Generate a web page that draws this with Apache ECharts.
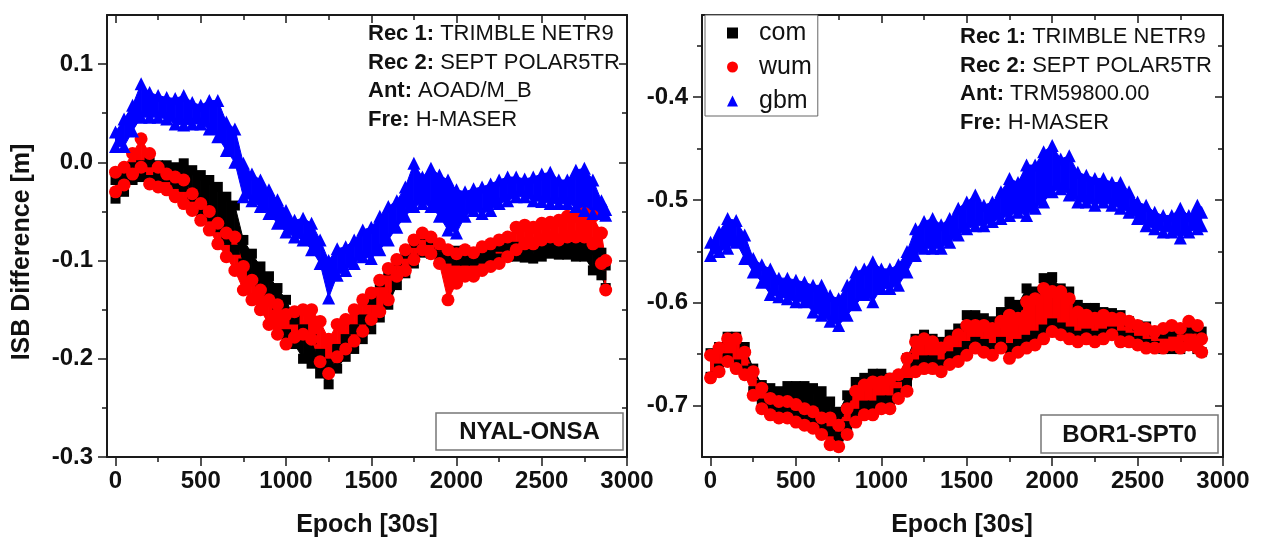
<!DOCTYPE html>
<html>
<head>
<meta charset="utf-8">
<script src="https://cdn.jsdelivr.net/npm/echarts@6/dist/echarts.min.js"></script>
<style>
  html, body { margin: 0; padding: 0; background: #fff; }
  #main { width: 1261px; height: 543px; }
</style>
</head>
<body>
<div id="main"></div>
<script>
const epochs = [0,50,100,150,200,250,300,350,400,450,500,550,600,650,700,750,800,850,900,950,
  1000,1050,1100,1150,1200,1250,1300,1350,1400,1450,1500,1550,1600,1650,1700,1750,1800,1850,1900,1950,
  2000,2050,2100,2150,2200,2250,2300,2350,2400,2450,2500,2550,2600,2650,2700,2750,2800,2850,2875]

// NYAL-ONSA : upper / lower edge of each point cloud [m]
const comHiL = [-0.018,-0.015,-0.005,-0.003,0.000,-0.003,-0.003,-0.005,-0.001,-0.008,
  -0.013,-0.018,-0.025,-0.035,-0.044,-0.079,-0.093,-0.106,-0.116,-0.128,
  -0.140,-0.160,-0.170,-0.180,-0.195,-0.205,-0.190,-0.180,-0.170,-0.160,
  -0.140,-0.122,-0.110,-0.100,-0.093,-0.082,-0.074,-0.079,-0.086,-0.092,
  -0.090,-0.090,-0.092,-0.089,-0.089,-0.086,-0.086,-0.086,-0.087,-0.086,
  -0.086,-0.086,-0.083,-0.086,-0.086,-0.083,-0.089,-0.092,-0.105]
const comLoL = [-0.037,-0.030,-0.018,-0.015,-0.018,-0.015,-0.015,-0.022,-0.025,-0.035,
  -0.049,-0.055,-0.066,-0.079,-0.089,-0.103,-0.113,-0.123,-0.133,-0.145,
  -0.175,-0.185,-0.200,-0.205,-0.215,-0.226,-0.210,-0.198,-0.190,-0.180,
  -0.170,-0.158,-0.145,-0.125,-0.113,-0.103,-0.092,-0.093,-0.096,-0.098,
  -0.100,-0.100,-0.100,-0.098,-0.098,-0.098,-0.096,-0.096,-0.097,-0.098,
  -0.096,-0.093,-0.094,-0.094,-0.096,-0.096,-0.110,-0.115,-0.128]
const wumHiL = [-0.010,-0.005,0.009,0.024,0.009,-0.005,-0.012,-0.015,-0.018,-0.032,
  -0.042,-0.050,-0.062,-0.072,-0.076,-0.106,-0.120,-0.130,-0.140,-0.145,
  -0.155,-0.152,-0.150,-0.150,-0.162,-0.180,-0.165,-0.160,-0.150,-0.140,
  -0.133,-0.120,-0.108,-0.099,-0.089,-0.079,-0.072,-0.076,-0.083,-0.089,
  -0.093,-0.089,-0.092,-0.086,-0.083,-0.079,-0.076,-0.066,-0.064,-0.066,
  -0.062,-0.061,-0.059,-0.055,-0.055,-0.052,-0.055,-0.072,-0.100]
const wumLoL = [-0.030,-0.023,-0.012,-0.005,-0.022,-0.025,-0.028,-0.035,-0.042,-0.049,
  -0.059,-0.069,-0.083,-0.096,-0.110,-0.130,-0.140,-0.150,-0.165,-0.175,
  -0.185,-0.178,-0.175,-0.180,-0.203,-0.215,-0.198,-0.190,-0.182,-0.172,
  -0.160,-0.152,-0.140,-0.116,-0.110,-0.099,-0.089,-0.093,-0.103,-0.140,
  -0.123,-0.116,-0.116,-0.110,-0.106,-0.103,-0.096,-0.089,-0.083,-0.083,
  -0.079,-0.076,-0.079,-0.076,-0.076,-0.076,-0.083,-0.103,-0.130]
const gbmHiL = [0.031,0.044,0.058,0.080,0.071,0.068,0.066,0.065,0.068,0.061,
  0.058,0.063,0.063,0.041,0.034,-0.001,-0.012,-0.018,-0.028,-0.038,
  -0.049,-0.059,-0.057,-0.062,-0.079,-0.100,-0.088,-0.086,-0.079,-0.069,
  -0.066,-0.055,-0.045,-0.039,-0.025,-0.001,-0.015,-0.006,-0.013,-0.018,
  -0.028,-0.030,-0.027,-0.025,-0.022,-0.018,-0.015,-0.015,-0.017,-0.015,
  -0.012,-0.010,-0.018,-0.018,-0.008,-0.006,-0.018,-0.039,-0.048]
const gbmLoL = [0.016,0.016,0.032,0.046,0.046,0.046,0.044,0.039,0.038,0.039,
  0.039,0.034,0.026,0.012,0.000,-0.035,-0.039,-0.045,-0.052,-0.062,
  -0.071,-0.076,-0.079,-0.089,-0.103,-0.138,-0.115,-0.110,-0.103,-0.096,
  -0.098,-0.089,-0.079,-0.066,-0.055,-0.045,-0.042,-0.045,-0.055,-0.069,
  -0.072,-0.055,-0.049,-0.052,-0.049,-0.042,-0.039,-0.035,-0.035,-0.039,
  -0.040,-0.042,-0.042,-0.042,-0.045,-0.049,-0.052,-0.052,-0.054]

// BOR1-SPT0
const comHiR = [-0.649,-0.643,-0.633,-0.633,-0.643,-0.664,-0.680,-0.683,-0.686,-0.681,
  -0.681,-0.681,-0.683,-0.686,-0.696,-0.706,-0.690,-0.677,-0.673,-0.669,
  -0.669,-0.673,-0.672,-0.654,-0.635,-0.631,-0.635,-0.638,-0.631,-0.625,
  -0.612,-0.612,-0.615,-0.618,-0.609,-0.599,-0.602,-0.586,-0.589,-0.576,
  -0.575,-0.586,-0.589,-0.602,-0.605,-0.605,-0.609,-0.610,-0.612,-0.618,
  -0.622,-0.623,-0.628,-0.630,-0.628,-0.626,-0.625,-0.625,-0.628]
const comLoR = [-0.672,-0.664,-0.654,-0.660,-0.666,-0.686,-0.698,-0.702,-0.705,-0.705,
  -0.708,-0.710,-0.714,-0.718,-0.725,-0.730,-0.720,-0.708,-0.700,-0.700,
  -0.695,-0.695,-0.688,-0.678,-0.660,-0.656,-0.656,-0.660,-0.652,-0.648,
  -0.642,-0.638,-0.640,-0.644,-0.638,-0.644,-0.640,-0.636,-0.632,-0.626,
  -0.620,-0.624,-0.628,-0.632,-0.630,-0.632,-0.630,-0.628,-0.632,-0.634,
  -0.637,-0.640,-0.642,-0.645,-0.645,-0.645,-0.642,-0.645,-0.648]
const wumHiR = [-0.651,-0.644,-0.635,-0.635,-0.648,-0.667,-0.683,-0.693,-0.696,-0.696,
  -0.699,-0.703,-0.706,-0.712,-0.712,-0.719,-0.703,-0.686,-0.680,-0.677,
  -0.677,-0.674,-0.670,-0.654,-0.638,-0.635,-0.638,-0.644,-0.638,-0.631,
  -0.622,-0.622,-0.622,-0.625,-0.618,-0.612,-0.615,-0.599,-0.596,-0.586,
  -0.589,-0.589,-0.596,-0.609,-0.612,-0.615,-0.612,-0.615,-0.615,-0.618,
  -0.622,-0.625,-0.628,-0.625,-0.622,-0.625,-0.618,-0.622,-0.635]
const wumLoR = [-0.673,-0.667,-0.657,-0.664,-0.670,-0.690,-0.703,-0.709,-0.712,-0.712,
  -0.716,-0.719,-0.722,-0.728,-0.738,-0.740,-0.728,-0.716,-0.709,-0.709,
  -0.703,-0.703,-0.693,-0.686,-0.667,-0.664,-0.664,-0.667,-0.660,-0.657,
  -0.651,-0.644,-0.648,-0.651,-0.644,-0.654,-0.648,-0.644,-0.641,-0.635,
  -0.628,-0.631,-0.635,-0.638,-0.635,-0.638,-0.635,-0.631,-0.638,-0.638,
  -0.641,-0.644,-0.644,-0.644,-0.641,-0.644,-0.641,-0.644,-0.648]
const gbmHiR = [-0.541,-0.531,-0.518,-0.520,-0.534,-0.557,-0.563,-0.567,-0.576,-0.576,
  -0.578,-0.580,-0.583,-0.583,-0.593,-0.596,-0.583,-0.570,-0.567,-0.560,
  -0.567,-0.567,-0.563,-0.550,-0.528,-0.521,-0.518,-0.524,-0.518,-0.508,
  -0.502,-0.495,-0.505,-0.502,-0.492,-0.479,-0.483,-0.466,-0.466,-0.453,
  -0.447,-0.460,-0.457,-0.473,-0.476,-0.479,-0.479,-0.483,-0.483,-0.492,
  -0.502,-0.505,-0.512,-0.515,-0.515,-0.508,-0.515,-0.505,-0.512]
const gbmLoR = [-0.554,-0.550,-0.547,-0.541,-0.557,-0.570,-0.580,-0.592,-0.594,-0.596,
  -0.599,-0.599,-0.609,-0.612,-0.618,-0.622,-0.612,-0.602,-0.592,-0.599,
  -0.586,-0.586,-0.583,-0.570,-0.554,-0.547,-0.547,-0.547,-0.541,-0.534,
  -0.528,-0.525,-0.525,-0.521,-0.518,-0.515,-0.512,-0.515,-0.508,-0.502,
  -0.492,-0.489,-0.495,-0.502,-0.502,-0.505,-0.502,-0.505,-0.508,-0.512,
  -0.518,-0.525,-0.528,-0.531,-0.531,-0.537,-0.531,-0.528,-0.525]

// tick positions
const xMajor = [0, 500, 1000, 1500, 2000, 2500, 3000]
const xMinor = [250, 750, 1250, 1750, 2250, 2750]
const yMajorL = [-0.3, -0.2, -0.1, 0.0, 0.1]
const yMinorL = [-0.25, -0.15, -0.05, 0.05]
const yMajorR = [-0.7, -0.6, -0.5, -0.4]
const yMinorR = [-0.65, -0.55, -0.45, -0.35]

const FONT = '"Liberation Sans", Arial, sans-serif'
const AX = '#1a1a1a'

// 4 x-axes and 4 y-axes per panel: bottom/left major, minor, top/right major, minor
function xAxes(gi) {
  const base = {type: 'value', gridIndex: gi, min: -50, max: 3000, splitLine: {show: false}}
  const tick = (vals, len, inside) => ({show: true, customValues: vals, length: len, inside: inside,
    lineStyle: {color: AX, width: 1.5}})
  return [
    Object.assign({}, base, {position: 'bottom',
      axisLine: {show: true, onZero: false, lineStyle: {color: AX, width: 2}},
      axisTick: tick(xMajor, 9, false),
      axisLabel: {customValues: xMajor, margin: 12, color: '#111', fontSize: 24, fontWeight: 'bold', fontFamily: FONT,
        formatter: v => String(v)}}),
    Object.assign({}, base, {position: 'bottom', axisLine: {show: false, onZero: false},
      axisTick: tick(xMinor, 5, false), axisLabel: {show: false}}),
    Object.assign({}, base, {position: 'top',
      axisLine: {show: true, onZero: false, lineStyle: {color: AX, width: 2}},
      axisTick: tick(xMajor, 8, true), axisLabel: {show: false}}),
    Object.assign({}, base, {position: 'top', axisLine: {show: false, onZero: false},
      axisTick: tick(xMinor, 5, true), axisLabel: {show: false}})
  ]
}

function yAxes(gi, min, max, major, minor) {
  const base = {type: 'value', gridIndex: gi, min: min, max: max, splitLine: {show: false}}
  const tick = (vals, len, inside) => ({show: true, customValues: vals, length: len, inside: inside,
    lineStyle: {color: AX, width: 1.5}})
  return [
    Object.assign({}, base, {position: 'left',
      axisLine: {show: true, onZero: false, lineStyle: {color: AX, width: 2}},
      axisTick: tick(major, 9, false),
      axisLabel: {customValues: major, margin: 14, color: '#111', fontSize: 24, fontWeight: 'bold', fontFamily: FONT,
        formatter: v => v.toFixed(1)}}),
    Object.assign({}, base, {position: 'left', axisLine: {show: false, onZero: false},
      axisTick: tick(minor, 5, false), axisLabel: {show: false}}),
    Object.assign({}, base, {position: 'right',
      axisLine: {show: true, onZero: false, lineStyle: {color: AX, width: 2}},
      axisTick: tick(major, 8, true), axisLabel: {show: false}}),
    Object.assign({}, base, {position: 'right', axisLine: {show: false, onZero: false},
      axisTick: tick(minor, 5, true), axisLabel: {show: false}})
  ]
}

// a point cloud = filled band between the read edges + markers along both edges
function cloud(name, color, hi, lo, symbol, size, gi) {
  const ax = {xAxisIndex: gi * 4, yAxisIndex: gi * 4}
  const rows = epochs.map((e, i) => [e, lo[i], hi[i]])
  const pts = epochs.map((e, i) => [e, hi[i]]).concat(epochs.map((e, i) => [e, lo[i]]))
  return [
    Object.assign({type: 'custom', name: name + ' band', coordinateSystem: 'cartesian2d', data: rows,
      encode: {x: 0, y: [1, 2]}, silent: true,
      renderItem: function (params, api) {
        const i = params.dataIndex
        if (i >= rows.length - 1) return null
        const a = rows[i], b = rows[i + 1]
        return {
          type: 'polygon',
          shape: {points: [api.coord([a[0], a[1]]), api.coord([a[0], a[2]]),
            api.coord([b[0], b[2]]), api.coord([b[0], b[1]])]},
          style: {fill: color, stroke: color, lineWidth: 1}
        }
      }}, ax),
    Object.assign({type: 'scatter', name: name, data: pts, symbol: symbol, symbolSize: size,
      itemStyle: {color: color, opacity: 1}, silent: true}, ax)
  ]
}

function panelSeries(gi, com, wum, gbm) {
  return [].concat(
    cloud('com', '#000000', com[0], com[1], 'rect', 10, gi),
    cloud('wum', '#ff0000', wum[0], wum[1], 'circle', 13, gi),
    cloud('gbm', '#0000ff', gbm[0], gbm[1], 'triangle', 13, gi)
  )
}

function infoLines(x, y0, ant) {
  const rows = [['Rec 1:', 'TRIMBLE NETR9'], ['Rec 2:', 'SEPT POLAR5TR'], ['Ant:', ant], ['Fre:', 'H-MASER']]
  return rows.map((r, i) => ({
    type: 'text', x: x, y: y0 + i * 28.5, z: 100,
    style: {text: '{b|' + r[0] + '} ' + r[1], fontSize: 22, fontFamily: FONT, fill: '#111',
      verticalAlign: 'middle', rich: {b: {fontWeight: 'bold', fontSize: 22, fontFamily: FONT}}}
  }))
}

function stationBox(x, y, w, h, label) {
  return [
    {type: 'rect', z: 100, shape: {x: x, y: y, width: w, height: h},
      style: {fill: '#fff', stroke: '#777', lineWidth: 1.5}},
    {type: 'text', z: 101, x: x + w / 2, y: y + h / 2 + 1,
      style: {text: label, fontSize: 24, fontWeight: 'bold', fontFamily: FONT, fill: '#111',
        align: 'center', verticalAlign: 'middle'}}
  ]
}

const chart = echarts.init(document.getElementById('main'))
chart.setOption({
  animation: false,
  backgroundColor: '#fff',
  grid: [
    {left: 107, top: 15, width: 520, height: 442},
    {left: 702, top: 15, width: 521, height: 442}
  ],
  xAxis: xAxes(0).concat(xAxes(1)),
  yAxis: yAxes(0, -0.3, 0.15, yMajorL, yMinorL).concat(yAxes(1, -0.75, -0.32, yMajorR, yMinorR)),
  legend: {
    data: [{name: 'com', icon: 'rect'}, {name: 'wum', icon: 'circle'}, {name: 'gbm', icon: 'triangle'}],
    orient: 'vertical', left: 705, top: 15,
    padding: [5, 6, 2, 22], itemGap: 8, itemWidth: 11, itemHeight: 11,
    borderColor: '#666', borderWidth: 1, backgroundColor: '#fff',
    textStyle: {fontSize: 25, fontFamily: FONT, color: '#111', lineHeight: 26, padding: [0, 0, 0, 16]},
    selectedMode: false
  },
  graphic: [].concat(
    [{type: 'text', x: 22, y: 252, rotation: Math.PI / 2, z: 100,
      style: {text: 'ISB Difference [m]', fontSize: 25, fontWeight: 'bold', fontFamily: FONT, fill: '#111',
        align: 'center', verticalAlign: 'middle'}},
     {type: 'text', x: 367, y: 525, z: 100,
      style: {text: 'Epoch [30s]', fontSize: 25, fontWeight: 'bold', fontFamily: FONT, fill: '#111',
        align: 'center', verticalAlign: 'middle'}},
     {type: 'text', x: 962, y: 525, z: 100,
      style: {text: 'Epoch [30s]', fontSize: 25, fontWeight: 'bold', fontFamily: FONT, fill: '#111',
        align: 'center', verticalAlign: 'middle'}}],
    infoLines(368, 34, 'AOAD/M_B'),
    infoLines(960, 37, 'TRM59800.00'),
    stationBox(436, 413, 187, 37, 'NYAL-ONSA'),
    stationBox(1041, 415, 177, 38, 'BOR1-SPT0')
  ),
  series: [].concat(
    panelSeries(0, [comHiL, comLoL], [wumHiL, wumLoL], [gbmHiL, gbmLoL]),
    panelSeries(1, [comHiR, comLoR], [wumHiR, wumLoR], [gbmHiR, gbmLoR])
  )
})
</script>
</body>
</html>
